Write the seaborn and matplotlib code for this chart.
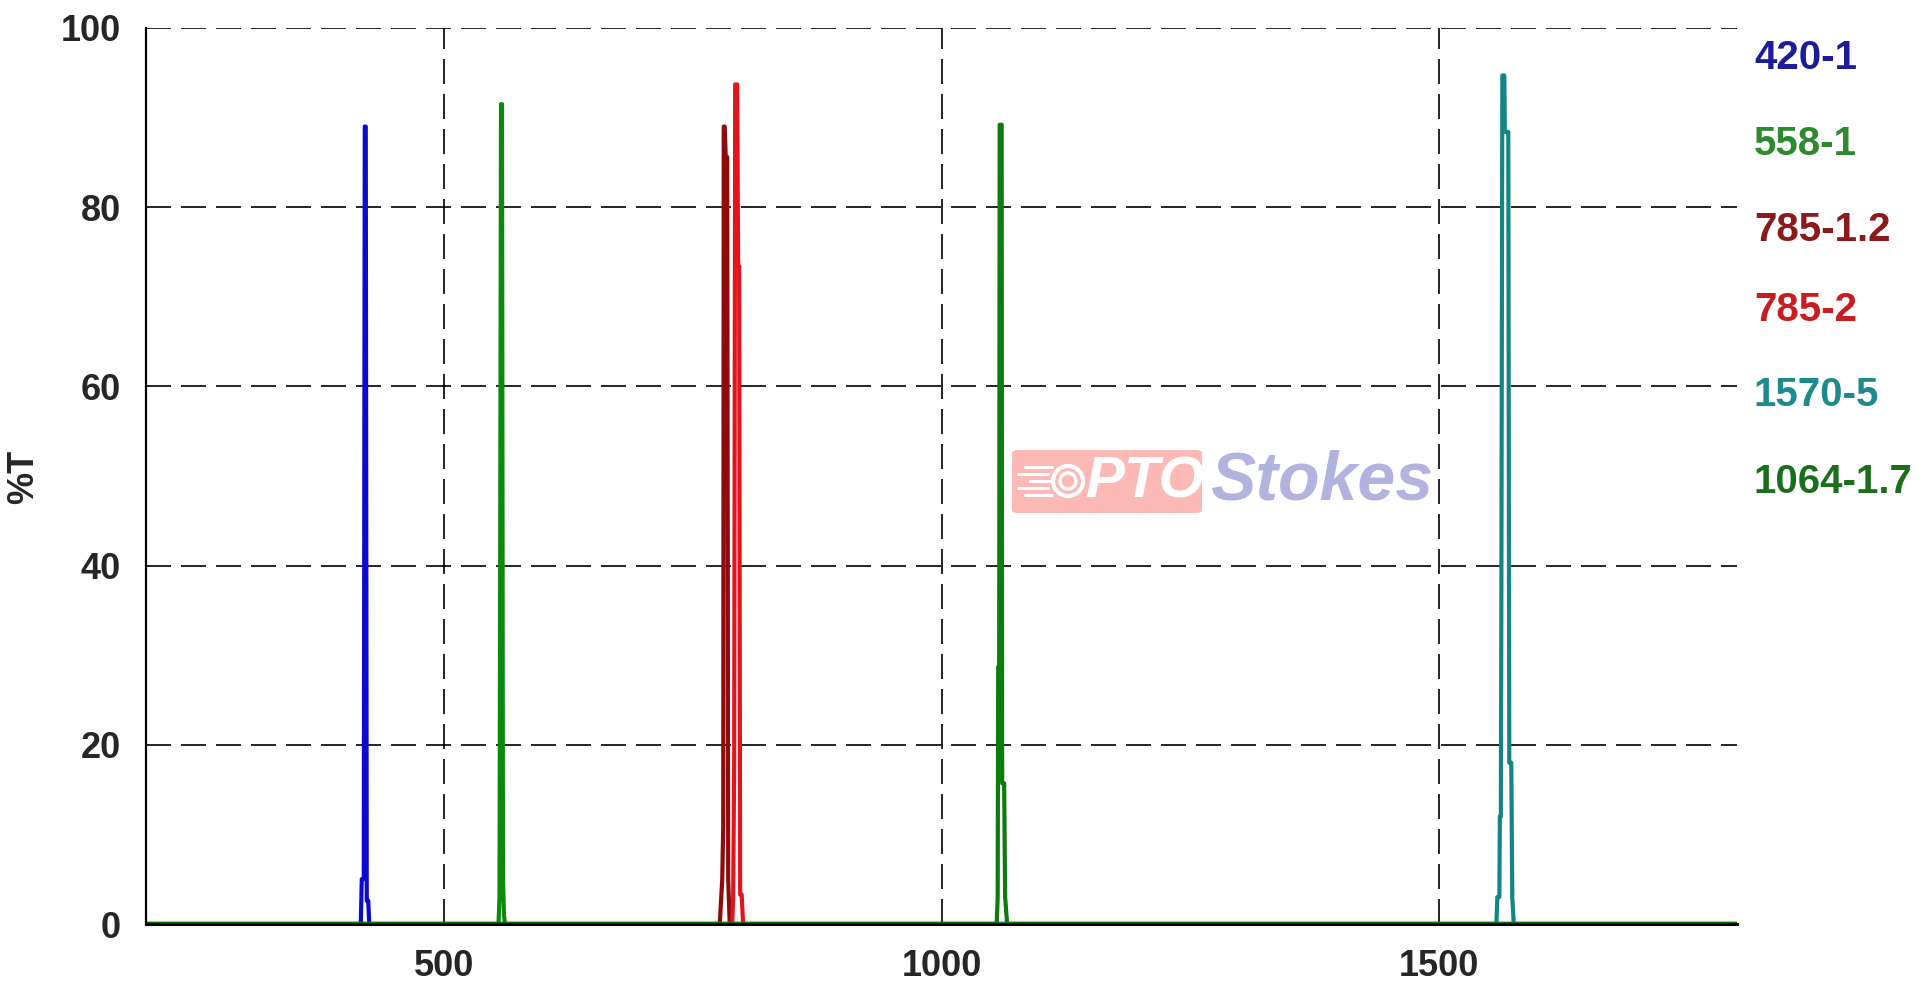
import matplotlib
matplotlib.use('Agg')
import matplotlib.pyplot as plt
import matplotlib.patches as mpatches
from matplotlib.lines import Line2D
import seaborn as sns
import pandas as pd

# Transmission curves (wavelength nm, %T)
wl_420 = [200, 416.0, 417.0, 419.0, 420.0, 421.0, 422.0, 423.5, 424.5, 1800]
t_420 = [0, 0, 5.0, 5.0, 89.0, 89.0, 2.6, 2.6, 0, 0]

wl_558 = [200, 554.5, 555.5, 556.0, 557.0, 558.0, 559.0, 560.0, 561.0, 1800]
t_558 = [0, 0, 3.0, 30.0, 91.5, 91.5, 5.0, 1.0, 0, 0]

wl_785a = [200, 777.0, 779.5, 780.5, 781.0, 782.0, 783.0, 784.5, 785.5, 787.0, 1800]
t_785a = [0, 0, 5.0, 11.0, 89.0, 89.0, 85.6, 85.6, 5.0, 0, 0]

wl_785b = [200, 789.5, 790.5, 791.5, 792.5, 794.5, 795.5, 796.5, 797.5, 799.0, 800.5, 1800]
t_785b = [0, 0, 3.0, 18.0, 93.7, 93.7, 73.4, 73.4, 3.3, 3.3, 0, 0]

wl_1570 = [200, 1558.0, 1559.0, 1561.0, 1561.5, 1562.5, 1563.0, 1564.0, 1566.0,
           1566.5, 1570.0, 1571.0, 1573.0, 1574.0, 1575.5, 1800]
t_1570 = [0, 0, 3.0, 3.0, 12.0, 12.0, 35.0, 94.7, 94.7, 88.4, 88.4, 18.0, 18.0, 3.0, 0, 0]

wl_1064 = [200, 1055.5, 1056.5, 1057.0, 1058.0, 1058.5, 1060.5, 1061.0, 1063.0, 1064.0, 1066.0, 1800]
t_1064 = [0, 0, 3.0, 28.7, 28.7, 89.2, 89.2, 15.7, 15.7, 3.0, 0, 0]

names = ['420-1', '558-1', '785-1.2', '785-2', '1570-5', '1064-1.7']
line_colors = ['#0a0ad0', '#0b8a0b', '#8e0b0b', '#e3141b', '#128585', '#0b7d0b']
text_colors = ['#1c1c9a', '#2e8a2e', '#8b1a1a', '#c81e22', '#1d8a8c', '#1b6e1b']

series = [(wl_420, t_420), (wl_558, t_558), (wl_785a, t_785a),
          (wl_785b, t_785b), (wl_1570, t_1570), (wl_1064, t_1064)]
frames = [pd.DataFrame({'wl': w, 'T': t, 'filter': n}) for n, (w, t) in zip(names, series)]
df = pd.concat(frames, ignore_index=True)

sns.set_style('white')
plt.rcParams['font.family'] = ['Liberation Sans', 'DejaVu Sans']

W, H = 1932, 1000
fig = plt.figure(figsize=(W / 100, H / 100), dpi=100)
ax = fig.add_axes([146 / W, 1 - 924 / H, (1737 - 146) / W, (924 - 28) / H])

sns.lineplot(data=df, x='wl', y='T', hue='filter', hue_order=names,
             palette=dict(zip(names, line_colors)), estimator=None,
             linewidth=3.0, legend=False, ax=ax)

ax.set_xlim(200, 1800)
ax.set_ylim(0, 100)
ax.set_xticks([500, 1000, 1500])
ax.set_yticks([0, 20, 40, 60, 80, 100])
ax.set_xlabel('')
ax.set_ylabel('')
ax.grid(True, color='black', linewidth=1.2, linestyle=(0, (15, 6)))
for s in ['top', 'right']:
    ax.spines[s].set_visible(False)
ax.spines['left'].set_linewidth(1.6)
ax.spines['bottom'].set_linewidth(2.2)
ax.spines['left'].set_color('black')
ax.spines['bottom'].set_color('black')
ax.tick_params(axis='both', direction='out', length=11, width=1.2, color='black',
               labelsize=26, pad=7)
for lab in ax.get_xticklabels() + ax.get_yticklabels():
    lab.set_fontweight('bold')

fig.text(24 / W, 1 - 477 / H, '%T', rotation=90, ha='center', va='center',
         fontsize=26, fontweight='bold')

# labels on the right
label_y = [58, 144, 230, 310, 395, 482]
for n, c, yy in zip(names, text_colors, label_y):
    fig.text(1754 / W, 1 - yy / H, n, color=c, fontsize=29, fontweight='bold',
             ha='left', va='center')

# watermark
def fx(x):
    return x / W

def fy(y):
    return 1 - y / H

box = mpatches.FancyBboxPatch((fx(1012), fy(513)), fx(190), 63 / H,
                              boxstyle='round,pad=0,rounding_size=0.003',
                              transform=fig.transFigure, facecolor='#fcb9b5',
                              edgecolor='none', zorder=1)
fig.patches.append(box)
for r, lw in [(15, 3.0), (8, 2.5)]:
    fig.patches.append(mpatches.Ellipse((fx(1068), fy(481)), 2 * r / W, 2 * r / H,
                                        transform=fig.transFigure, facecolor='none',
                                        edgecolor='white', linewidth=lw, zorder=2))
for yy, x0, x1 in [(467, 1025, 1052), (474, 1018, 1048), (481, 1030, 1050),
                   (488, 1018, 1048), (495, 1025, 1052)]:
    fig.lines.append(Line2D([fx(x0), fx(x1)], [fy(yy), fy(yy)], transform=fig.transFigure,
                            color='white', linewidth=2.2, zorder=2))
fig.text(fx(1086), fy(482), 'PTO', color='white', fontsize=42, fontweight='bold',
         style='italic', ha='left', va='center')
fig.text(fx(1210), fy(482), 'Stokes', color='#b3b3df', fontsize=49, fontweight='bold',
         style='italic', ha='left', va='center')

fig.savefig('out.png', dpi=100, facecolor='white')
